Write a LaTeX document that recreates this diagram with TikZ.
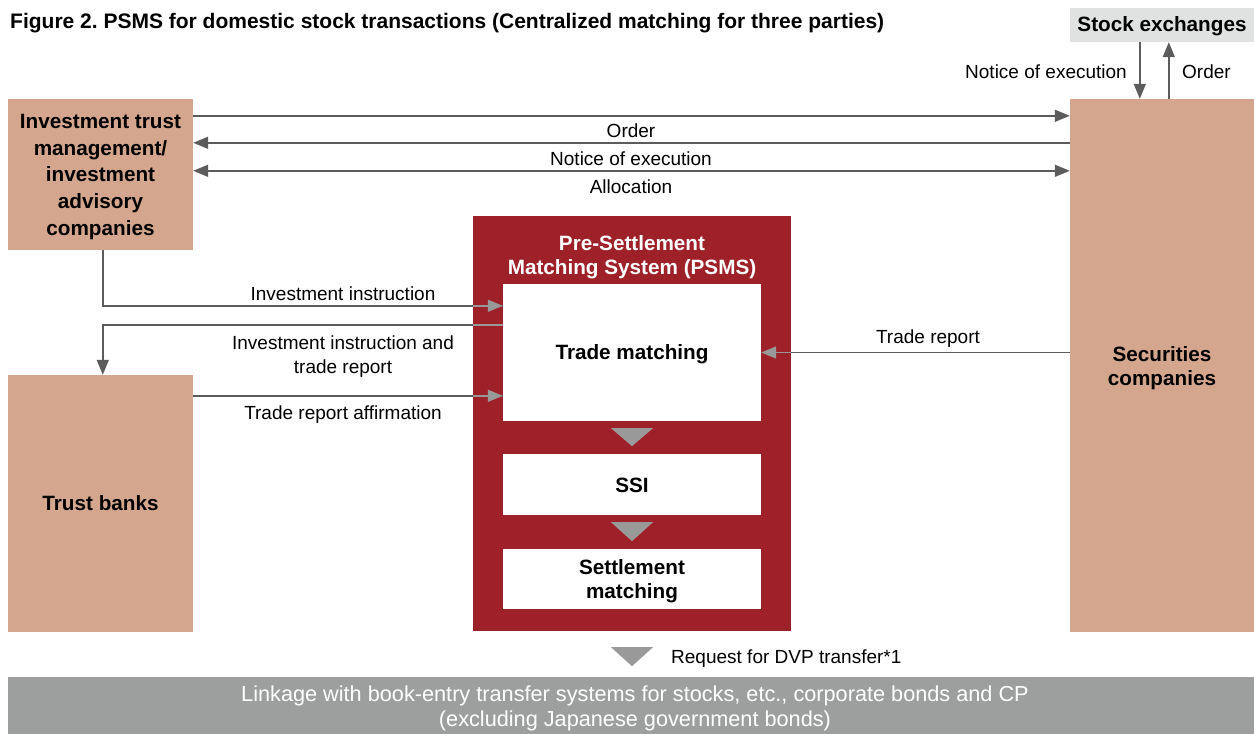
\documentclass[tikz,border=0pt]{standalone}
\usepackage{fontspec}
\setmainfont{Liberation Sans}
\usetikzlibrary{arrows.meta,calc}

\definecolor{partytan}{RGB}{212,166,142}
\definecolor{psmsred}{RGB}{158,33,41}
\definecolor{linkgray}{RGB}{157,158,158}
\definecolor{exchgray}{RGB}{224,225,225}
\definecolor{tipgray}{RGB}{153,153,153}
\definecolor{linedark}{RGB}{92,92,92}

\newcommand\ttlfont{\bfseries\fontsize{21}{26}\selectfont}
\newcommand\bxfont{\bfseries\fontsize{20.7}{26.8}\selectfont}
\newcommand\bxtightfont{\bfseries\fontsize{20.7}{24}\selectfont}
\newcommand\lblfont{\fontsize{19}{24}\selectfont}
\newcommand\barfont{\fontsize{21.7}{25}\selectfont}

\tikzset{
  party/.style={fill=partytan, draw=none, inner sep=0pt},
  inbox/.style={fill=white, draw=none, inner sep=0pt},
  boxtext/.style={inner sep=0pt, align=center, font=\bxfont, yshift=-2.5pt},
  boxtight/.style={inner sep=0pt, align=center, font=\bxtightfont, yshift=-2.5pt},
  lbl/.style={inner sep=0pt, font=\lblfont, align=center},
  ln/.style={draw=linedark, line width=1.5pt},
  lnlight/.style={draw=tipgray, line width=1.5pt},
  tipdark/.style={-{Triangle[length=15pt,width=12pt,fill=linedark]}},
  tiplight/.style={-{Triangle[length=15pt,width=12pt,fill=tipgray]}},
  flowtri/.style={fill=tipgray, draw=none}
}

\begin{document}
\begin{tikzpicture}[x=1pt,y=-1pt]
\useasboundingbox (0,0) rectangle (1254,734);

% title
\node[anchor=base west, inner sep=0pt, font=\ttlfont] (title) at (10,28)
  {Figure 2.\ PSMS for domestic stock transactions (Centralized matching for three parties)};

% parties
\node[fill=exchgray, inner sep=0pt, minimum width=184pt, minimum height=34pt] (se) at (1162,25) {};
\node[boxtight, yshift=1pt] (set) at (se.center) {Stock exchanges};
\node[party, minimum width=185pt, minimum height=151pt] (it) at (100.5,174.5) {};
\node[boxtext] (itt) at (it.center) {Investment trust\\management/\\investment\\advisory\\companies};
\node[party, minimum width=184pt, minimum height=533pt] (ses) at (1162,365.5) {};
\node[boxtight] (sest) at (ses.center) {Securities\\companies};
\node[party, minimum width=185pt, minimum height=257pt] (tb) at (100.5,503.5) {};
\node[boxtight, yshift=3pt] (tbt) at (tb.center) {Trust banks};

% PSMS
\node[fill=psmsred, inner sep=0pt, minimum width=318pt, minimum height=415pt] (psms) at (632,423.5) {};
\node[inner sep=0pt, align=center, text=white, font=\bxtightfont] (psmst) at (632,257)
  {Pre-Settlement\\Matching System (PSMS)};
\node[inbox, minimum width=258pt, minimum height=137pt] (tm) at (632,352.5) {};
\node[boxtight, yshift=1pt] (tmt) at (tm.center) {Trade matching};
\node[inbox, minimum width=258pt, minimum height=61pt] (ssi) at (632,484.5) {};
\node[boxtight, yshift=2pt] (ssit) at (ssi.center) {SSI};
\node[inbox, minimum width=258pt, minimum height=60pt] (sm) at (632,579) {};
\node[boxtight] (smt) at (sm.center) {Settlement\\matching};

% flow triangles
\fill[flowtri] ($(tm.south)+(-21,7)$) -- ++(42,0) -- ++(-21,18) -- cycle;
\fill[flowtri] ($(ssi.south)+(-21,7)$) -- ++(42,0) -- ++(-21,19) -- cycle;
\fill[flowtri] ($(psms.south)+(-21,16)$) -- ++(42,0) -- ++(-21,19) -- cycle;

% book-entry linkage
\node[fill=linkgray, inner sep=0pt, minimum width=1246pt, minimum height=57pt] (bar) at (631,705.5) {};
\node[inner sep=0pt, align=center, text=white, font=\barfont, anchor=base] (bart) at (635,726.5)
  {Linkage with book-entry transfer systems for stocks, etc., corporate bonds and CP\\(excluding Japanese government bonds)};
\node[lbl, anchor=base west] (dvp) at (671,663.5) {Request for DVP transfer*1};

% investment trust <-> securities companies
\draw[ln, tipdark] ($(it.north east)+(0,17)$) -- ($(ses.north west)+(0,17)$);
\draw[ln, {Triangle[length=15pt,width=12pt,fill=linedark]}-] ($(it.north east)+(0,44)$) -- ($(ses.north west)+(0,44)$);
\draw[ln, {Triangle[length=15pt,width=12pt,fill=linedark]}-{Triangle[length=15pt,width=12pt,fill=linedark]}]
  ($(it.north east)+(0,72)$) -- ($(ses.north west)+(0,72)$);
\node[lbl, anchor=base] (lorder) at (631,137) {Order};
\node[lbl, anchor=base] (lnotice) at (631,165) {Notice of execution};
\node[lbl, anchor=base] (lalloc) at (631,193) {Allocation};

% securities companies <-> stock exchanges
\draw[ln, tipdark] ($(se.south west)+(70,0)$) -- ($(ses.north west)+(70,0)$);
\draw[ln, tipdark] ($(ses.north west)+(99,0)$) -- ($(se.south west)+(99,0)$);
\node[lbl, anchor=base east] (lnotice2) at (1127,78) {Notice of execution};
\node[lbl, anchor=base west] (lorder2) at (1182,78) {Order};

% investment instruction
\draw[ln] ($(it.south west)+(95,0)$) |- ($(tm.north west)+(0,22)$);
\draw[lnlight, tiplight] ($(tm.north west)+(-30,22)$) -- ($(tm.north west)+(0,22)$);
\node[lbl, anchor=base] (linstr) at (343,300) {Investment instruction};

% investment instruction and trade report
\draw[ln, tipdark] ($(tm.north west)+(0,41)$) -| ($(tb.north west)+(95,0)$);
\draw[lnlight] ($(tm.north west)+(0,41)$) -- ($(tm.north west)+(-30,41)$);
\node[lbl, anchor=base] (linstr2) at (343,373) {Investment instruction and\\trade report};

% trade report affirmation
\draw[ln] ($(tb.north east)+(0,21)$) -- ($(tm.north west)+(0,112)$);
\draw[lnlight, tiplight] ($(tm.north west)+(-30,112)$) -- ($(tm.north west)+(0,112)$);
\node[lbl, anchor=base] (laffirm) at (343,419) {Trade report affirmation};

% trade report
\draw[ln] (ses.west |- tm.east) -- (tm.east);
\draw[lnlight, tiplight] ($(tm.east)+(30,0)$) -- (tm.east);
\node[lbl, anchor=base] (ltrade) at (928,343) {Trade report};
\end{tikzpicture}
\end{document}
